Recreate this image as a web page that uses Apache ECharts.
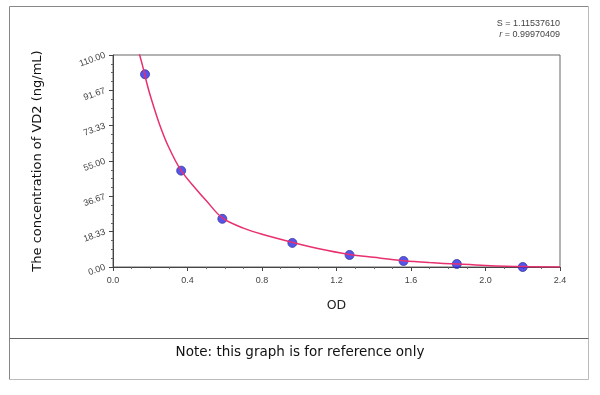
<!DOCTYPE html>
<html>
<head>
<meta charset="utf-8">
<script src="https://cdn.jsdelivr.net/npm/echarts@6/dist/echarts.min.js"></script>
<style>html,body{margin:0;padding:0;background:#fff;}#c{width:600px;height:395px;}</style>
</head>
<body>
<div id="c"></div>
<script>
// Standards (OD, concentration)
var pointOD = [0.172, 0.366, 0.587, 0.963, 1.27, 1.56, 1.846, 2.2];
var pointConc = [100, 50, 25, 12.5, 6.25, 3.125, 1.5625, 0];
// Fitted curve
var curveOD = [0.14, 0.16, 0.18, 0.2, 0.25, 0.3, 0.366, 0.45, 0.5, 0.587, 0.7, 0.8, 0.963, 1.1, 1.27, 1.4, 1.56, 1.7, 1.85, 2.0, 2.2, 2.4];
var curveConc = [111, 104, 96, 89, 74, 62, 50, 40, 34.5, 25.5, 20.2, 17, 12.8, 9.6, 6.5, 5.0, 3.3, 2.3, 1.5, 0.8, 0.2, 0];
var yTickLabels = ['0.00', '18.33', '36.67', '55.00', '73.33', '91.67', '110.00'];
var xTickLabels = ['0.0', '0.4', '0.8', '1.2', '1.6', '2.0', '2.4'];
var statS = '1.11537610';
var statR = '0.99970409';

var chart = echarts.init(document.getElementById('c'), null, {renderer: 'canvas'});
var yStep = 110 / 6;
chart.setOption({
  animation: false,
  backgroundColor: '#fff',
  grid: {left: 113, right: 40, top: 55, bottom: 128, show: true, borderColor: '#666', borderWidth: 1, backgroundColor: 'transparent'},
  xAxis: {
    type: 'value', min: 0, max: 2.4, interval: 0.4,
    name: 'OD', nameLocation: 'middle', nameGap: 32,
    nameTextStyle: {fontFamily: 'DejaVu Sans', fontSize: 12.5, color: '#222'},
    axisLine: {show: true, lineStyle: {color: '#444'}},
    axisTick: {show: true, length: 4, lineStyle: {color: '#444'}},
    minorTick: {show: true, splitNumber: 4, length: 2, lineStyle: {color: '#666'}},
    splitLine: {show: false},
    axisLabel: {fontFamily: 'Liberation Sans', fontSize: 9, color: '#444', margin: 9,
      formatter: function (v) { return xTickLabels[Math.round(v / 0.4)]; }}
  },
  yAxis: {
    type: 'value', min: 0, max: 110, interval: yStep,
    name: 'The concentration of VD2 (ng/mL)', nameLocation: 'middle', nameGap: 69,
    nameTextStyle: {fontFamily: 'DejaVu Sans', fontSize: 13, color: '#111'},
    axisLine: {show: true, lineStyle: {color: '#444'}},
    axisTick: {show: true, length: 4, lineStyle: {color: '#444'}},
    minorTick: {show: true, splitNumber: 4, length: 2, lineStyle: {color: '#666'}},
    splitLine: {show: false},
    axisLabel: {fontFamily: 'Liberation Sans', fontSize: 9, color: '#444', rotate: 20, margin: 8,
      formatter: function (v) { return yTickLabels[Math.round(v / yStep)]; }}
  },
  graphic: [
    {type: 'line', shape: {x1: 9.5, y1: 6.5, x2: 588.5, y2: 6.5}, style: {stroke: '#888', lineWidth: 1}},
    {type: 'line', shape: {x1: 9.5, y1: 6.5, x2: 9.5, y2: 379.5}, style: {stroke: '#888', lineWidth: 1}},
    {type: 'line', shape: {x1: 588.5, y1: 6.5, x2: 588.5, y2: 379.5}, style: {stroke: '#bbb', lineWidth: 1}},
    {type: 'line', shape: {x1: 9.5, y1: 338.5, x2: 588.5, y2: 338.5}, style: {stroke: '#666', lineWidth: 1}},
    {type: 'line', shape: {x1: 9.5, y1: 379.5, x2: 588.5, y2: 379.5}, style: {stroke: '#bbb', lineWidth: 1}},
    {type: 'text', left: 'center', top: 345, style: {text: 'Note: this graph is for reference only', fontFamily: 'DejaVu Sans', fontSize: 13.5, fill: '#111'}},
    {type: 'text', right: 40, top: 19, style: {text: 'S = ' + statS, fontFamily: 'Liberation Sans', fontSize: 9, fill: '#444', align: 'right'}},
    {type: 'text', right: 40, top: 30, style: {text: '{i|r} = ' + statR, fontFamily: 'Liberation Sans', fontSize: 9, fill: '#444', align: 'right',
      rich: {i: {fontStyle: 'italic', fontFamily: 'Liberation Sans', fontSize: 9, fill: '#444'}}}}
  ],
  series: [
    {
      type: 'line', smooth: 0.35, symbol: 'none', clip: true, z: 3,
      lineStyle: {color: '#e8306e', width: 1.5},
      data: curveOD.map(function (x, i) { return [x, curveConc[i]]; })
    },
    {
      type: 'scatter', symbol: 'circle', symbolSize: 9, z: 2, clip: false,
      itemStyle: {color: '#2a2ae8', borderColor: '#3a3a9a', borderWidth: 1},
      data: pointOD.map(function (x, i) { return [x, pointConc[i]]; })
    }
  ]
});
</script>
</body>
</html>
